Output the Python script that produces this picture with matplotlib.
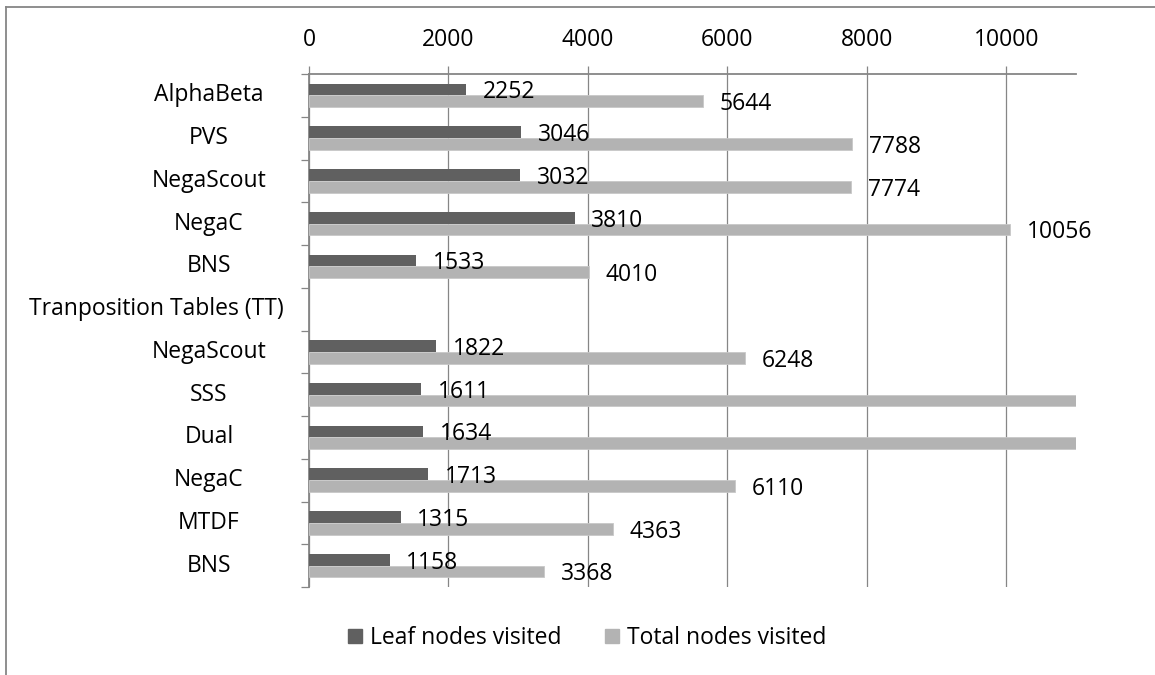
import matplotlib
matplotlib.use('Agg')
import matplotlib.pyplot as plt
import numpy as np
from matplotlib.lines import Line2D

plt.rcParams['font.family'] = ['Open Sans', 'DejaVu Sans']

categories = ['AlphaBeta', 'PVS', 'NegaScout', 'NegaC', 'BNS',
              'Tranposition Tables (TT)',
              'NegaScout', 'SSS', 'Dual', 'NegaC', 'MTDF', 'BNS']
# None = no bar (section header row)
leaf_nodes = [2252, 3046, 3032, 3810, 1533, None,
              1822, 1611, 1634, 1713, 1315, 1158]
# SSS and Dual run past the end of the axis in the original (value not shown)
total_nodes = [5644, 7788, 7774, 10056, 4010, None,
               6248, 12000, 12000, 6110, 4363, 3368]
x_ticks = [0, 2000, 4000, 6000, 8000, 10000]
x_max = 11000

dark = '#606060'
light = '#b3b3b3'
grid_c = '#868686'
fs = 16.5

fig = plt.figure(figsize=(11.55, 6.75), dpi=100)
ax = fig.add_axes([309 / 1155, 1 - 587 / 675, 767 / 1155, 513 / 675])

h = 0.275
for i, (lf, tot) in enumerate(zip(leaf_nodes, total_nodes)):
    if lf is not None:
        ax.barh(i - h / 2, lf, height=h, color=dark, zorder=3)
        ax.annotate(str(lf), (lf, i - h / 2), xytext=(12, -2),
                    textcoords='offset points', va='center', ha='left',
                    fontsize=fs, zorder=4)
    if tot is not None:
        ax.barh(i + h / 2, tot, height=h, color=light, edgecolor='#c8c8c8',
                linewidth=0.6, zorder=3)
        if tot <= x_max:
            ax.annotate(str(tot), (tot, i + h / 2), xytext=(12, -2),
                        textcoords='offset points', va='center', ha='left',
                        fontsize=fs, zorder=4)

ax.set_xlim(0, x_max)
ax.set_ylim(len(categories) - 0.5, -0.5)

ax.xaxis.tick_top()
ax.set_xticks(x_ticks)
ax.set_xticklabels([str(t) for t in x_ticks], fontsize=fs)
ax.tick_params(axis='x', which='major', direction='out', length=6,
               width=0.9, color=grid_c, pad=10)
ax.grid(axis='x', color=grid_c, linewidth=0.9, zorder=0)

ax.set_yticks([])
ax.set_yticks(np.arange(-0.5, len(categories), 1), minor=True)
ax.tick_params(axis='y', which='minor', direction='out', length=6,
               width=0.9, color=grid_c)
ax.tick_params(axis='y', which='major', length=0)

for name in ('right', 'bottom'):
    ax.spines[name].set_visible(False)
for name in ('left', 'top'):
    ax.spines[name].set_color(grid_c)
    ax.spines[name].set_linewidth(1.3)

# category labels, centred in the label area like the original
trans = ax.get_yaxis_transform()
for i, name in enumerate(categories):
    if len(name) > 15:
        ax.text(-25 / 767, i, name, transform=trans, ha='right',
                va='center', fontsize=fs)
    else:
        ax.text(-100 / 767, i, name, transform=trans, ha='center',
                va='center', fontsize=fs)

handles = [plt.Rectangle((0, 0), 1, 1, color=dark),
           plt.Rectangle((0, 0), 1, 1, color=light)]
fig.legend(handles, ['Leaf nodes visited', 'Total nodes visited'],
           loc='center', bbox_to_anchor=(587 / 1155, 1 - 638 / 675),
           ncol=2, frameon=False, fontsize=fs, handlelength=0.6,
           handleheight=0.6, handletextpad=0.35, columnspacing=1.9)

# outer chart border (left and top edges visible)
fig.add_artist(Line2D([6 / 1155, 6 / 1155], [0, 1 - 7 / 675],
                      color=grid_c, linewidth=1.3))
fig.add_artist(Line2D([6 / 1155, 1], [1 - 7 / 675, 1 - 7 / 675],
                      color=grid_c, linewidth=1.3))

fig.savefig('out.png', dpi=100)
